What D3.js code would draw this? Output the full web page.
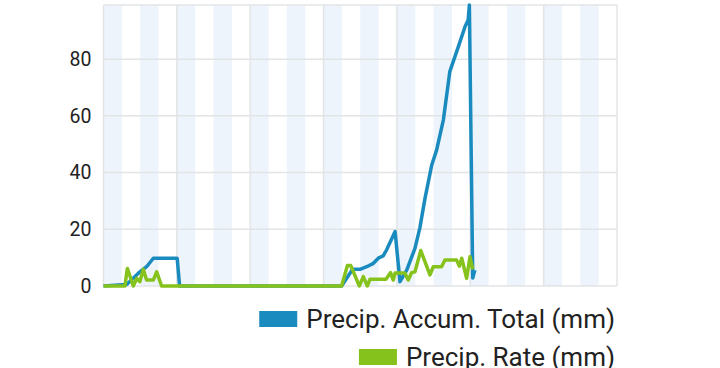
<!DOCTYPE html>
<html>
<head>
<meta charset="utf-8">
<script src="https://cdn.jsdelivr.net/npm/d3@7"></script>
<style>
  html, body { margin: 0; padding: 0; background: #fff; }
  svg { display: block; font-family: Roboto, "Noto Sans", sans-serif; }
</style>
</head>
<body>
<svg id="chart" width="720" height="368"></svg>
<script>
// hours from start of the 7 day window
var accumHours = [0, 7.6, 9.8, 11.9, 14.1, 16.3, 24.1, 24.9,
  77.9, 81.5, 83.9, 86.1, 88.3, 89.9, 91.5, 92.6, 95.4, 97.0, 99.2, 101.9,
  103.5, 105.2, 107.4, 109.0, 111.2, 113.3, 116.1, 118.3, 119.3, 119.7, 120.8, 121.5];
var accumValues = [0, 0.5, 2.8, 5.0, 6.8, 9.8, 9.8, 0,
  0, 5.9, 5.9, 6.8, 8.0, 9.8, 10.6, 12.7, 19.2, 1.5, 5.6, 13.3,
  20.5, 31, 42.7, 48, 58.6, 75.6, 84.4, 91.5, 93.8, 99.1, 2.8, 5.6];

var rateHours = [0, 7, 7.8, 9.75, 10.9, 11.9, 13, 14.1, 16.3, 17.4, 19,
  77.9, 79.8, 80.9, 83.7, 85, 86.3, 87.2, 92.4, 93.9, 94.8, 95.4, 98.6, 99.7,
  100.8, 101.9, 103.8, 106.8, 107.9, 110.6, 111.7, 115.5, 116.4, 117.2, 118.8, 119.9, 120.8];
var rateValues = [0, 0, 6.2, 0, 2.7, 1.5, 5.9, 2.1, 2.1, 5, 0,
  0, 7.2, 7.2, 0, 3.3, 0, 2.4, 2.4, 4.7, 2.1, 4.6, 4.6, 2.1,
  4.7, 5, 12.5, 3.9, 6.8, 6.8, 9.2, 9.2, 7, 9.8, 2.7, 10.3, 5.9];

var yTicks = [0, 20, 40, 60, 80];
var dayStarts = [0, 24, 48, 72, 96, 120, 144, 168];
var seriesNames = ["Precip. Accum. Total (mm)", "Precip. Rate (mm)"];
var seriesColors = ["#1a8bbf", "#86c21c"];

var svg = d3.select("#chart");
var plotLeft = 103.5, plotRight = 617, plotTop = 5, plotBottom = 286;

var x = d3.scaleLinear().domain([0, 168]).range([plotLeft, plotRight]);
var y = d3.scaleLinear().domain([0, d3.max(accumValues)]).range([plotBottom, plotTop]);

// light bands, 6h shaded every 12h
svg.append("g").selectAll("rect")
  .data(d3.range(0, 168, 12))
  .enter().append("rect")
  .attr("x", d => x(d))
  .attr("y", plotTop)
  .attr("width", d => x(d + 6) - x(d))
  .attr("height", plotBottom - plotTop)
  .attr("fill", "#edf4fb");

// horizontal grid
svg.append("g").selectAll("line")
  .data(yTicks)
  .enter().append("line")
  .attr("x1", plotLeft).attr("x2", plotRight)
  .attr("y1", d => y(d)).attr("y2", d => y(d))
  .attr("stroke", "#e2e4e6").attr("stroke-width", 1.5);

svg.append("line")
  .attr("x1", plotLeft).attr("x2", plotRight)
  .attr("y1", plotTop).attr("y2", plotTop)
  .attr("stroke", "#e2e4e6").attr("stroke-width", 1.5);

// day lines
svg.append("g").selectAll("line")
  .data(dayStarts)
  .enter().append("line")
  .attr("x1", d => x(d)).attr("x2", d => x(d))
  .attr("y1", plotTop).attr("y2", plotBottom)
  .attr("stroke", "#e2e4e6").attr("stroke-width", 1.5);

// y axis labels
var yAxis = svg.append("g")
  .attr("transform", "translate(" + (plotLeft - 12) + ",0)")
  .call(d3.axisLeft(y).tickValues(yTicks).tickSize(0).tickPadding(0));
yAxis.select(".domain").remove();
yAxis.selectAll("text")
  .style("font-family", "Roboto, sans-serif")
  .style("font-size", "19.5px")
  .attr("fill", "#222");

var line = d3.line()
  .x(d => x(d[0]))
  .y(d => y(d[1]));

var accum = accumHours.map((h, i) => [h, accumValues[i]]);
var rate = rateHours.map((h, i) => [h, rateValues[i]]);

svg.append("path")
  .datum(accum)
  .attr("d", line)
  .attr("fill", "none")
  .attr("stroke", seriesColors[0])
  .attr("stroke-width", 3.5)
  .attr("stroke-linejoin", "round");

svg.append("path")
  .datum(rate)
  .attr("d", line)
  .attr("fill", "none")
  .attr("stroke", seriesColors[1])
  .attr("stroke-width", 3.5)
  .attr("stroke-linejoin", "round");

// legend, right aligned rows
var legendRight = 615;
var rowBase = [328, 366];
seriesNames.forEach(function(name, i) {
  var t = svg.append("text")
    .attr("x", legendRight)
    .attr("y", rowBase[i])
    .attr("text-anchor", "end")
    .style("font-size", "26px")
    .attr("fill", "#222")
    .text(name);
  var w = t.node().getComputedTextLength();
  svg.append("rect")
    .attr("x", legendRight - w - 9 - 38)
    .attr("y", rowBase[i] - 17)
    .attr("width", 38)
    .attr("height", 16)
    .attr("fill", seriesColors[i]);
});
</script>
</body>
</html>
